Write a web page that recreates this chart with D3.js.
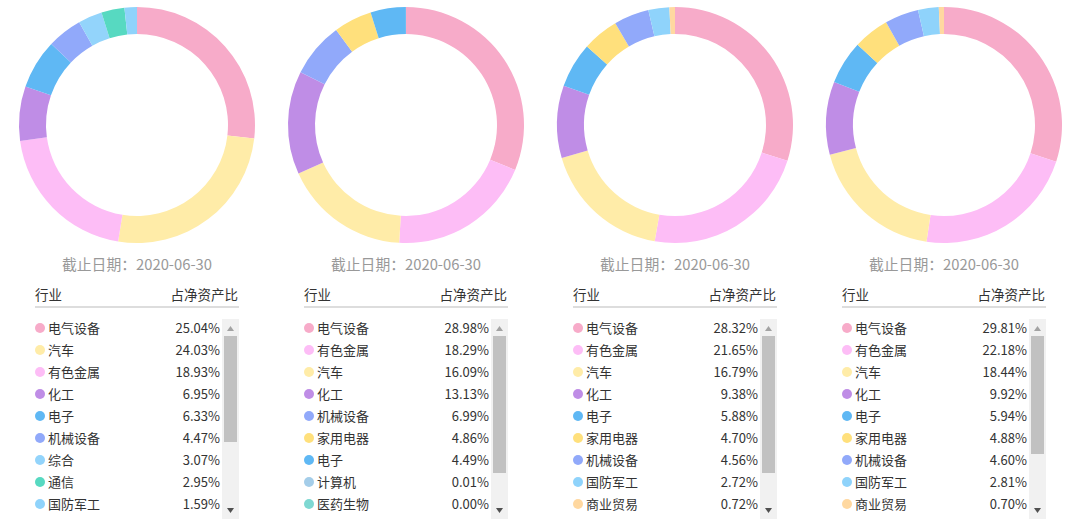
<!DOCTYPE html>
<html><head><meta charset="utf-8">
<script src="https://cdn.jsdelivr.net/npm/d3@7"></script>
<style>body{margin:0;background:#fff;font-family:"Noto Sans CJK SC","Noto Sans",sans-serif;}</style>
</head><body><svg id="c" width="1078" height="526"></svg>
<script>
const dateLabel = '截止日期：2020-06-30';
const names1 = ['电气设备','汽车','有色金属','化工','电子','机械设备','综合','通信','国防军工'];
const vals1 = [25.04,24.03,18.93,6.95,6.33,4.47,3.07,2.95,1.59];
const names2 = ['电气设备','有色金属','汽车','化工','机械设备','家用电器','电子','计算机','医药生物'];
const vals2 = [28.98,18.29,16.09,13.13,6.99,4.86,4.49,0.01,0.00];
const names3 = ['电气设备','有色金属','汽车','化工','电子','家用电器','机械设备','国防军工','商业贸易'];
const vals3 = [28.32,21.65,16.79,9.38,5.88,4.70,4.56,2.72,0.72];
const names4 = ['电气设备','有色金属','汽车','化工','电子','家用电器','机械设备','国防军工','商业贸易'];
const vals4 = [29.81,22.18,18.44,9.92,5.94,4.88,4.60,2.81,0.70];

const colors = {'电气设备':'#f7abc9','汽车':'#ffeca8','有色金属':'#fdbdf6','化工':'#bf8de6','电子':'#5fb8f4',
  '机械设备':'#91a9fa','综合':'#93d4fb','通信':'#57d9c1','国防军工':'#8fd3fb','家用电器':'#ffe07c',
  '计算机':'#a4cde9','医药生物':'#7ed8d2','商业贸易':'#ffd8a0'};

const panels = [[names1,vals1,106],[names2,vals2,137],[names3,vals3,137],[names4,vals4,118]];
const svg = d3.select('#c');
const pie = d3.pie().sort(null).value(d=>d.v);
const arc = d3.arc().innerRadius(91).outerRadius(118);

panels.forEach(([names,vals,thumbH],i)=>{
  const ox = i*269;
  const data = names.map((n,j)=>({n,v:vals[j]}));
  const g = svg.append('g').attr('transform',`translate(${ox},0)`);
  g.append('g').attr('transform','translate(137,125)')
    .selectAll('path').data(pie(data)).join('path')
    .attr('d',arc).attr('fill',d=>colors[d.data.n]);
  g.append('text').attr('x',137).attr('y',270).attr('text-anchor','middle')
    .attr('fill','#999').attr('font-size',14.8).text(dateLabel);
  g.append('text').attr('x',35).attr('y',300).attr('fill','#333').attr('font-size',13.5).text('行业');
  g.append('text').attr('x',238).attr('y',300).attr('text-anchor','end').attr('fill','#333').attr('font-size',13.5).text('占净资产比');
  g.append('rect').attr('x',35).attr('y',306).attr('width',204).attr('height',2).attr('fill','#ddd');
  // scrollbar
  g.append('rect').attr('x',222).attr('y',319).attr('width',17).attr('height',200).attr('fill','#f1f1f1');
  g.append('rect').attr('x',224).attr('y',336).attr('width',13).attr('height',thumbH).attr('fill','#c1c1c1');
  g.append('path').attr('d','M227,331 L230.5,326 L234,331Z').attr('fill','#a3a3a3');
  g.append('path').attr('d','M227,508 L230.5,513 L234,508Z').attr('fill','#505050');
  const y = d3.scaleBand().domain(d3.range(names.length)).range([317,515]);
  const row = g.selectAll('g.row').data(data).join('g').attr('class','row')
    .attr('transform',(d,j)=>`translate(0,${y(j)+y.bandwidth()/2})`);
  row.append('circle').attr('cx',40).attr('cy',0).attr('r',5).attr('fill',d=>colors[d.n]);
  row.append('text').attr('x',48).attr('y',5).attr('font-size',13).attr('fill','#333').text(d=>d.n);
  row.append('text').attr('x',220).attr('y',5).attr('text-anchor','end').attr('font-size',13).attr('fill','#333')
    .text(d=>d.v.toFixed(2)+'%');
});
</script></body></html>
